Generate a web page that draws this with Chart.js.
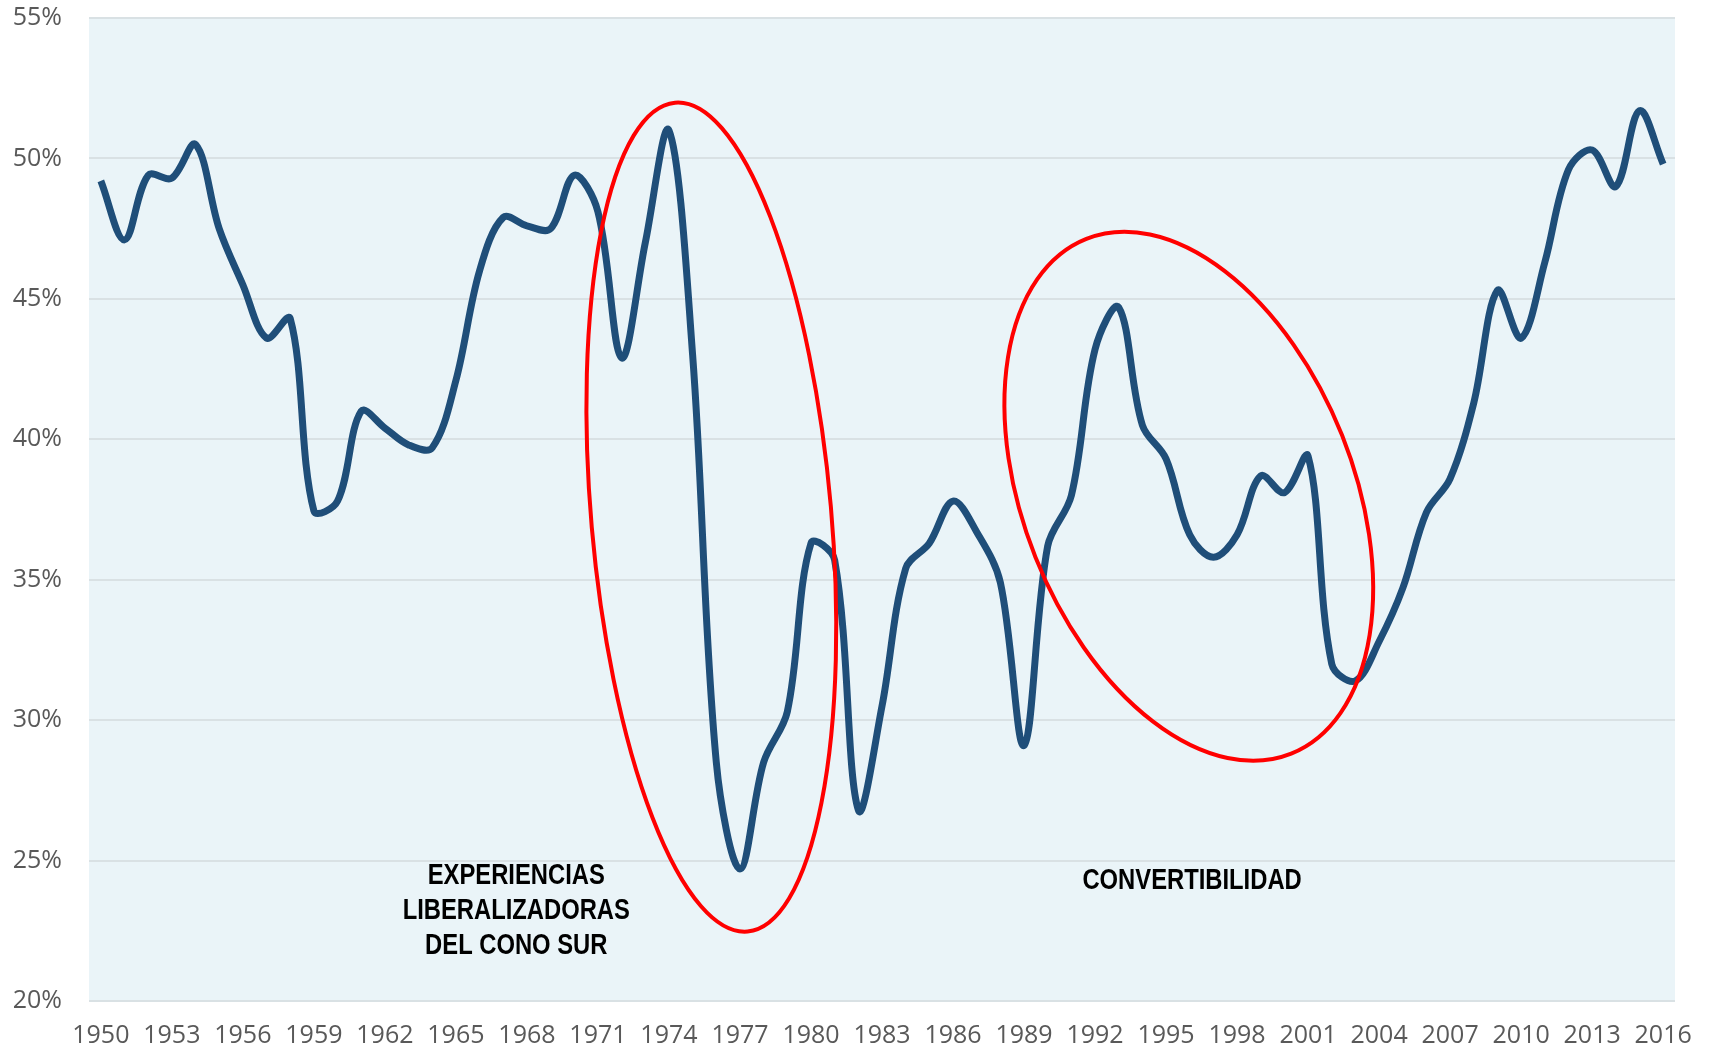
<!DOCTYPE html>
<html>
<head>
<meta charset="utf-8">
<script src="https://cdn.jsdelivr.net/npm/chart.js@4.4.1/dist/chart.umd.min.js"></script>
<style>
  html, body { margin: 0; padding: 0; background: #ffffff; }
  #wrap { width: 1709px; height: 1051px; position: relative; }
</style>
</head>
<body>
<div id="wrap"><canvas id="chart" width="1709" height="1051"></canvas></div>
<script>
// years on the category axis
var years = [];
for (var yr = 1950; yr <= 2016; yr++) years.push(String(yr));

// share (%)
var shareValues = [
  49.2, 47.1, 49.4, 49.3, 50.5, 47.5, 45.5, 43.6, 44.3, 37.45,
  37.8, 41.0, 40.4, 39.8, 39.7, 42.1, 46.0, 47.9, 47.6, 47.5,
  49.4, 48.1, 42.9, 47.0, 51.0, 43.0, 28.5, 24.7, 28.5, 30.3,
  36.3, 35.7, 26.8, 30.5, 35.4, 36.3, 37.8, 36.7, 34.9, 29.1,
  36.2, 38.0, 43.2, 44.7, 40.5, 39.3, 36.6, 35.8, 36.6, 38.7,
  38.1, 39.4, 32.0, 31.4, 32.8, 34.7, 37.4, 38.6, 41.3, 45.3,
  43.6, 46.3, 49.6, 50.3, 49.0, 51.7, 49.8
];

var yMin = 20, yMax = 55, yStep = 5;

// annotation texts and ellipse placements (centre in data units)
var notes = [
  { lines: ['EXPERIENCIAS', 'LIBERALIZADORAS', 'DEL CONO SUR'], year: 1967.55, value: 24.45 },
  { lines: ['CONVERTIBILIDAD'], year: 1996.1, value: 24.28 }
];
var rings = [
  { year: 1975.79, value: 37.23, rx: 416, ry: 120, rot: 85 },
  { year: 1995.96, value: 37.97, rx: 277, ry: 165, rot: 68.3 }
];

var tickFont = { family: "'Open Sans', 'Noto Sans', sans-serif", size: 25 };

function yearPixel(xs, y) {
  // fractional year -> pixel using two neighbouring categories
  var i = Math.floor(y - 1950);
  var a = xs.getPixelForValue(i), b = xs.getPixelForValue(i + 1);
  return a + (b - a) * (y - 1950 - i);
}

var backdrop = {
  id: 'backdrop',
  beforeDraw: function(chart) {
    var ca = chart.chartArea, ctx = chart.ctx;
    ctx.save();
    ctx.fillStyle = '#eaf4f8';
    ctx.fillRect(ca.left, ca.top, ca.right - ca.left, ca.bottom - ca.top);
    ctx.restore();
  }
};

var marks = {
  id: 'marks',
  afterDatasetsDraw: function(chart) {
    var ctx = chart.ctx, xs = chart.scales.x, ys = chart.scales.y;
    ctx.save();
    ctx.strokeStyle = '#ff0000';
    ctx.lineWidth = 4;
    rings.forEach(function(r) {
      ctx.beginPath();
      ctx.ellipse(yearPixel(xs, r.year), ys.getPixelForValue(r.value), r.rx, r.ry, r.rot * Math.PI / 180, 0, Math.PI * 2);
      ctx.stroke();
    });
    ctx.fillStyle = '#000000';
    ctx.font = "bold 29px 'Liberation Sans', Arial, sans-serif";
    ctx.textAlign = 'center';
    ctx.textBaseline = 'middle';
    notes.forEach(function(n) {
      var x = yearPixel(xs, n.year), y = ys.getPixelForValue(n.value);
      n.lines.forEach(function(t, k) {
        // squeeze to look like a narrow face
        ctx.save();
        ctx.translate(x, y + k * 35);
        ctx.scale(0.82, 1);
        ctx.fillText(t, 0, 0);
        ctx.restore();
      });
    });
    ctx.restore();
  }
};

new Chart(document.getElementById('chart').getContext('2d'), {
  type: 'line',
  data: {
    labels: years,
    datasets: [{
      data: shareValues,
      borderColor: '#1f4e79',
      borderWidth: 7,
      pointRadius: 0,
      tension: 0.35,
      fill: false
    }]
  },
  options: {
    responsive: false,
    animation: false,
    layout: { padding: { top: 18, right: 34, left: 0, bottom: 0 } },
    plugins: { legend: { display: false }, tooltip: { enabled: false } },
    scales: {
      x: {
        offset: true,
        grid: { display: false },
        border: { display: false },
        ticks: {
          autoSkip: false, maxRotation: 0, color: '#595959', font: tickFont, padding: 12,
          callback: function(v, i) { return i % 3 === 0 ? years[i] : ''; }
        },
        afterFit: function(s) { s.height = 50; s.paddingLeft = 0; s.paddingRight = 0; }
      },
      y: {
        min: yMin, max: yMax,
        grid: { color: '#d9e1e4', lineWidth: 2, drawTicks: false },
        border: { display: false },
        ticks: {
          stepSize: yStep, color: '#595959', font: tickFont, padding: 27,
          callback: function(v) { return v + '%'; }
        },
        afterFit: function(s) { s.width = 89; s.paddingTop = 0; s.paddingBottom = 0; }
      }
    }
  },
  plugins: [backdrop, marks]
});
</script>
</body>
</html>
